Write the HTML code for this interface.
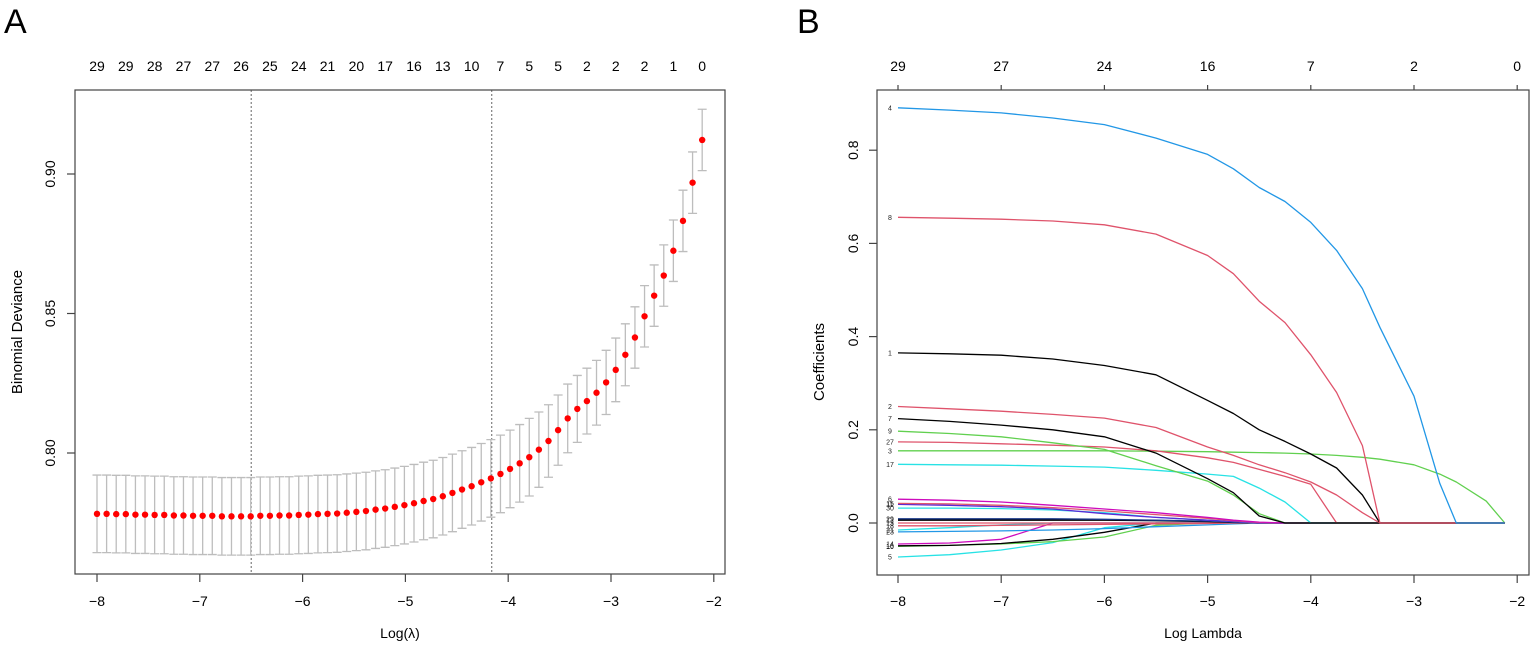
<!DOCTYPE html>
<html><head><meta charset="utf-8"><style>
html,body{margin:0;padding:0;background:#fff;}
svg{display:block;font-family:"Liberation Sans",Arial,sans-serif;}
</style></head><body>
<svg id="fig" width="1535" height="648" viewBox="0 0 1535 648" xmlns="http://www.w3.org/2000/svg">
<g id="pA"></g>
<g id="pB"></g>
</svg>
<script>
// ---------- Panel A data ----------
const aLogLambdaStart = -8;
const aLogLambdaEnd = -2.113;
const aDeviance = [0.7782,0.7782,0.7781,0.7781,0.7779,0.7779,0.7778,0.7778,0.7776,0.7776,0.7775,0.7775,0.7775,0.7773,0.7773,0.7773,0.7773,0.7775,0.7775,0.7776,0.7776,0.7778,0.7779,0.7781,0.7782,0.7783,0.7786,0.7789,0.7792,0.7797,0.7801,0.7807,0.7813,0.7820,0.7828,0.7835,0.7845,0.7857,0.7869,0.7881,0.7895,0.7909,0.7925,0.7943,0.7963,0.7985,0.8012,0.8043,0.8082,0.8124,0.8158,0.8186,0.8216,0.8253,0.8298,0.8352,0.8414,0.8490,0.8564,0.8636,0.8725,0.8832,0.8969,0.9122];
const aSE = [0.0139,0.0139,0.0139,0.0139,0.0139,0.0139,0.0139,0.0139,0.0139,0.0139,0.0139,0.0139,0.0139,0.0139,0.0139,0.0139,0.0139,0.0139,0.0139,0.0139,0.0139,0.0139,0.0139,0.0139,0.0139,0.0139,0.0139,0.0139,0.0139,0.0139,0.0139,0.0139,0.0139,0.0139,0.0139,0.0139,0.0139,0.0139,0.0139,0.0139,0.0139,0.0139,0.0139,0.0139,0.0139,0.0139,0.0135,0.0130,0.0126,0.0123,0.0120,0.0118,0.0116,0.0115,0.0114,0.0111,0.0110,0.0110,0.0110,0.0110,0.0110,0.0110,0.0110,0.0110];
const aTopLabels = ["29","29","28","27","27","26","25","24","21","20","17","16","13","10","7","5","5","2","2","2","1","0"];
const aXTicks = [-8,-7,-6,-5,-4,-3,-2];
const aYTicks = [0.80,0.85,0.90];
const aVLines = [-6.50,-4.16];

// ---------- Panel B data ----------
const bGrid = [-8,-7.5,-7,-6.5,-6,-5.5,-5,-4.75,-4.5,-4.25,-4,-3.75,-3.5,-3.33,-3,-2.75,-2.59,-2.3,-2.12];
const bNames = ["4","8","1","2","7","9","27","3","17","6","15","11","30","29","12","13","18","21","23","14","16","10","5"];
const bColors = ["#2297E6","#DF536B","#000000","#DF536B","#000000","#61D04F","#DF536B","#61D04F","#28E2E5","#CD0BBC","#DF536B","#5B2AD6","#28E2E5","#1A3A8A","#000000","#DF536B","#DF536B","#28E2E5","#2297E6","#CD0BBC","#000000","#61D04F","#28E2E5"];
const c4  = [.891,.886,.880,.869,.855,.826,.791,.760,.720,.690,.645,.585,.503,.42,.272,.085,0,0,0];
const c8  = [.656,.654,.652,.648,.640,.620,.574,.535,.476,.43,.361,.28,.166,0,0,0,0,0,0];
const c1  = [.365,.363,.360,.352,.338,.318,.263,.235,.20,.175,.148,.118,.06,0,0,0,0,0,0];
const c2  = [.25,.245,.24,.233,.225,.205,.163,.145,.125,.108,.088,.06,.022,0,0,0,0,0,0];
const c7  = [.224,.218,.21,.20,.185,.15,.095,.065,.015,0,0,0,0,0,0,0,0,0,0];
const c9  = [.197,.192,.185,.172,.158,.123,.09,.06,.02,0,0,0,0,0,0,0,0,0,0];
const c27 = [.174,.173,.17,.167,.163,.155,.14,.13,.115,.10,.083,0,0,0,0,0,0,0,0];
const c3  = [.155,.155,.155,.155,.155,.154,.153,.152,.151,.150,.148,.145,.141,.137,.125,.105,.088,.047,0];
const c17 = [.126,.125,.124,.122,.12,.113,.105,.1,.075,.045,0,0,0,0,0,0,0,0,0];
const c6  = [.051,.049,.045,.038,.030,.022,.012,.006,.002,0,0,0,0,0,0,0,0,0,0];
const c15 = [.042,.041,.038,.033,.026,.018,.010,.005,.001,0,0,0,0,0,0,0,0,0,0];
const c11 = [.040,.038,.035,.030,.020,.012,.006,.003,0,0,0,0,0,0,0,0,0,0,0];
const c30 = [.032,.032,.031,.028,.022,.012,.006,.003,0,0,0,0,0,0,0,0,0,0,0];
const c29 = [.009,.009,.009,.009,.008,.006,.004,.002,0,0,0,0,0,0,0,0,0,0,0];
const c12 = [.006,.006,.006,.006,.006,.005,.003,.001,0,0,0,0,0,0,0,0,0,0,0];
const c13 = [0,0,0,0,0,0,0,0,0,0,0,0,0,0,0,0,0,0,0];
const c18 = [-.006,-.006,-.005,-.004,-.003,-.002,-.001,0,0,0,0,0,0,0,0,0,0,0,0];
const c21 = [-.015,-.01,-.004,0,0,0,0,0,0,0,0,0,0,0,0,0,0,0,0];
const c23 = [-.019,-.018,-.017,-.015,-.012,-.008,-.004,-.002,0,0,0,0,0,0,0,0,0,0,0];
const c14 = [-.045,-.043,-.035,0,0,0,0,0,0,0,0,0,0,0,0,0,0,0,0];
const c16 = [-.049,-.048,-.044,-.035,-.02,0,0,0,0,0,0,0,0,0,0,0,0,0,0];
const c10 = [-.05,-.048,-.045,-.04,-.03,-.005,0,0,0,0,0,0,0,0,0,0,0,0,0];
const c5  = [-.073,-.068,-.058,-.042,-.01,0,0,0,0,0,0,0,0,0,0,0,0,0,0];
const bSeries = [c4,c8,c1,c2,c7,c9,c27,c3,c17,c6,c15,c11,c30,c29,c12,c13,c18,c21,c23,c14,c16,c10,c5];
const bTopLabels = ["29","27","24","16","7","2","0"];
const bXTicks = [-8,-7,-6,-5,-4,-3,-2];
const bYTicks = [0.0,0.2,0.4,0.6,0.8];

const NS = "http://www.w3.org/2000/svg";
function mk(parent, tag, attrs, text){
  const e = document.createElementNS(NS, tag);
  for (const k in attrs) e.setAttribute(k, attrs[k]);
  if (text !== undefined) e.textContent = text;
  parent.appendChild(e);
  return e;
}

// ---------- Panel A ----------
(function(){
  const g = document.getElementById('pA');
  const xA = v => 97 + (v + 8) * 102.8;
  const yA = v => 174 + (0.90 - v) * 2790;
  const L = 75, R = 725, T = 90, B = 574;
  const t = mk(g,'text',{x:4,y:33,'font-size':34,fill:'#000'},'A');
  
  
  const n = aDeviance.length;
  const step = (aLogLambdaEnd - aLogLambdaStart) / (n - 1);
  const lam = i => aLogLambdaStart + i * step;
  aVLines.forEach((v,i)=>{
    const l = mk(g,'line',{x1:xA(v),x2:xA(v),y1:T,y2:B,stroke:'#666','stroke-width':1,'stroke-dasharray':'2,2'});
    
    
  });
  for (let i=0;i<n;i++){
    const x = xA(lam(i)), y1 = yA(aDeviance[i]+aSE[i]), y2 = yA(aDeviance[i]-aSE[i]);
    const eb = mk(g,'path',{d:`M${x},${y1}V${y2}M${x-4.5},${y1}H${x+4.5}M${x-4.5},${y2}H${x+4.5}`,stroke:'#bdbdbd','stroke-width':1.3,fill:'none'});
    
    
  }
  for (let i=0;i<n;i++){
    const c = mk(g,'circle',{cx:xA(lam(i)),cy:yA(aDeviance[i]),r:3.2,fill:'#ff0000'});
    
    
  }
  const box = mk(g,'rect',{x:L,y:T,width:R-L,height:B-T,fill:'none',stroke:'#444','stroke-width':1.2});
  
  
  aTopLabels.forEach((s,k)=>{
    const tx = mk(g,'text',{x:xA(lam(k*3)),y:71,'font-size':14,'text-anchor':'middle',fill:'#000'},s);
    
    
  });
  aXTicks.forEach(v=>{
    const tk = mk(g,'line',{x1:xA(v),x2:xA(v),y1:B,y2:B+8,stroke:'#444','stroke-width':1.2});
    
    
    const tx = mk(g,'text',{x:xA(v),y:606,'font-size':14,'text-anchor':'middle',fill:'#000'},'\u2212'+Math.abs(v));
    
    
  });
  aYTicks.forEach(v=>{
    const tk = mk(g,'line',{x1:L-8,x2:L,y1:yA(v),y2:yA(v),stroke:'#444','stroke-width':1.2});
    
    
    const tx = mk(g,'text',{x:0,y:0,'font-size':14,'text-anchor':'middle',fill:'#000',transform:`translate(55,${yA(v)}) rotate(-90)`},v.toFixed(2));
    
    
  });
  const xt = mk(g,'text',{x:400,y:638,'font-size':14,'text-anchor':'middle',fill:'#000'},'Log(\u03bb)');
  
  
  const yt = mk(g,'text',{x:0,y:0,'font-size':15,'text-anchor':'middle',fill:'#000',transform:'translate(22,332) rotate(-90)'},'Binomial Deviance');
  
  
})();

// ---------- Panel B ----------
(function(){
  const g = document.getElementById('pB');
  const xB = v => 898 + (v + 8) * 103.2;
  const yB = v => 523 - v * 466;
  const L = 877, R = 1529, T = 90, B = 575;
  const t = mk(g,'text',{x:797,y:33,'font-size':34,fill:'#000'},'B');
  
  
  for (let s = bSeries.length-1; s >= 0; s--){
    const vals = bSeries[s];
    const d = vals.map((v,i)=>(i?'L':'M')+xB(bGrid[i]).toFixed(1)+','+yB(v).toFixed(1)).join('');
    const p = mk(g,'path',{d:d,stroke:bColors[s],'stroke-width':1.3,fill:'none','stroke-linejoin':'round'});
    
    
    const lb = mk(g,'text',{x:890,y:yB(vals[0])+2.5,'font-size':7,'text-anchor':'middle',fill:'#222'},bNames[s]);
    
    
  }
  const box = mk(g,'rect',{x:L,y:T,width:R-L,height:B-T,fill:'none',stroke:'#444','stroke-width':1.2});
  
  
  bXTicks.forEach((v,k)=>{
    const tk = mk(g,'line',{x1:xB(v),x2:xB(v),y1:B,y2:B+8,stroke:'#444','stroke-width':1.2});
    
    
    const tx = mk(g,'text',{x:xB(v),y:606,'font-size':14,'text-anchor':'middle',fill:'#000'},'\u2212'+Math.abs(v));
    
    
    const tt = mk(g,'line',{x1:xB(v),x2:xB(v),y1:T-5,y2:T,stroke:'#444','stroke-width':1.2});
    
    
    const tl = mk(g,'text',{x:xB(v),y:71,'font-size':14,'text-anchor':'middle',fill:'#000'},bTopLabels[k]);
    
    
  });
  bYTicks.forEach(v=>{
    const tk = mk(g,'line',{x1:L-8,x2:L,y1:yB(v),y2:yB(v),stroke:'#444','stroke-width':1.2});
    
    
    const tx = mk(g,'text',{x:0,y:0,'font-size':14,'text-anchor':'middle',fill:'#000',transform:`translate(858,${yB(v)}) rotate(-90)`},v.toFixed(1));
    
    
  });
  const xt = mk(g,'text',{x:1203,y:638,'font-size':14,'text-anchor':'middle',fill:'#000'},'Log Lambda');
  
  
  const yt = mk(g,'text',{x:0,y:0,'font-size':15,'text-anchor':'middle',fill:'#000',transform:'translate(824,362) rotate(-90)'},'Coefficients');
  
  
})();
</script>
</body></html>
